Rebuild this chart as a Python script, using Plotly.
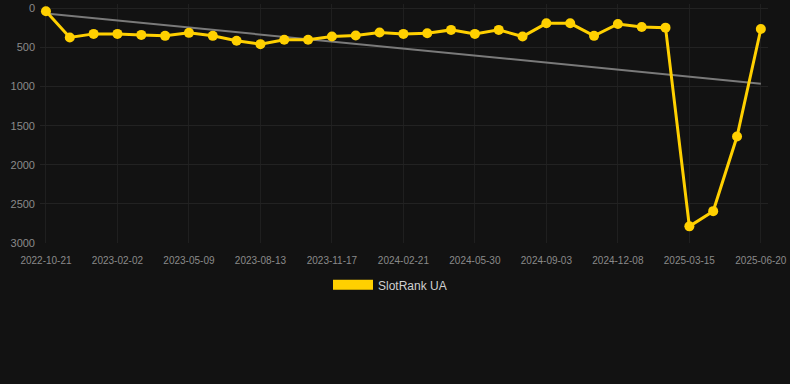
import plotly.graph_objects as go

dates = [
    "2022-10-21", "2022-11-25", "2022-12-30", "2023-02-02", "2023-03-06", "2023-04-07",
    "2023-05-09", "2023-06-10", "2023-07-12", "2023-08-13", "2023-09-14", "2023-10-16",
    "2023-11-17", "2023-12-19", "2024-01-20", "2024-02-21", "2024-03-25", "2024-04-27",
    "2024-05-30", "2024-07-01", "2024-08-02", "2024-09-03", "2024-10-05", "2024-11-06",
    "2024-12-08", "2025-01-09", "2025-02-11", "2025-03-15", "2025-04-16", "2025-05-19",
    "2025-06-20",
]
rank = [
    38, 373, 327, 327, 340, 352, 314, 352, 415, 458, 403, 403, 361, 348, 310,
    327, 319, 276, 327, 276, 361, 192, 192, 352, 200, 238, 247, 2787, 2593, 1639, 264,
]
trend_x = [dates[0], dates[-1]]
trend_y = [66, 963]
tick_labels = dates[::3]
y_ticks = [0, 500, 1000, 1500, 2000, 2500, 3000]

gold = "#FFD000"

fig = go.Figure()
fig.add_trace(go.Scatter(
    x=trend_x, y=trend_y, mode="lines",
    line=dict(color="#7a7a7a", width=2), showlegend=False, hoverinfo="skip",
))
fig.add_trace(go.Scatter(
    x=dates, y=rank, mode="lines+markers", name="SlotRank UA",
    line=dict(color=gold, width=3),
    marker=dict(color=gold, size=10),
    cliponaxis=False, showlegend=False, legendgroup="ua",
))
fig.add_trace(go.Scatter(
    x=[None], y=[None], mode="lines", name="SlotRank UA",
    line=dict(color=gold, width=10), showlegend=True, legendgroup="ua",
))
fig.update_layout(
    width=790, height=384,
    paper_bgcolor="#121212", plot_bgcolor="#121212",
    margin=dict(l=40, r=22, t=2, b=141),
    font=dict(family="Liberation Sans, Arial, sans-serif", color="#8a8a8a"),
    showlegend=True,
    legend=dict(
        orientation="h", x=0.5 - 14 / 728, xanchor="center", y=-0.175, yanchor="middle",
        font=dict(size=12, color="#d0d0d0"), itemwidth=40,
    ),
    xaxis=dict(
        type="category", categoryorder="array", categoryarray=dates,
        range=[-0.25, 30.3],
        tickmode="array", tickvals=tick_labels, ticktext=tick_labels,
        tickfont=dict(size=10, color="#8a8a8a"),
        showgrid=True, gridcolor="#1f1f1f", gridwidth=1,
        showline=False, zeroline=False, ticks="", ticklabelstandoff=10,
    ),
    yaxis=dict(
        range=[3000, -55], tickvals=y_ticks,
        tickfont=dict(size=11, color="#8a8a8a"),
        showgrid=True, gridcolor="#222222", gridwidth=1,
        zeroline=False, showline=False, ticks="", ticklabelstandoff=4,
    ),
)
fig.write_html(
    "out.html",
    config={"displayModeBar": False},
    post_script="document.body.style.margin='0';document.body.style.background='#121212';",
)
